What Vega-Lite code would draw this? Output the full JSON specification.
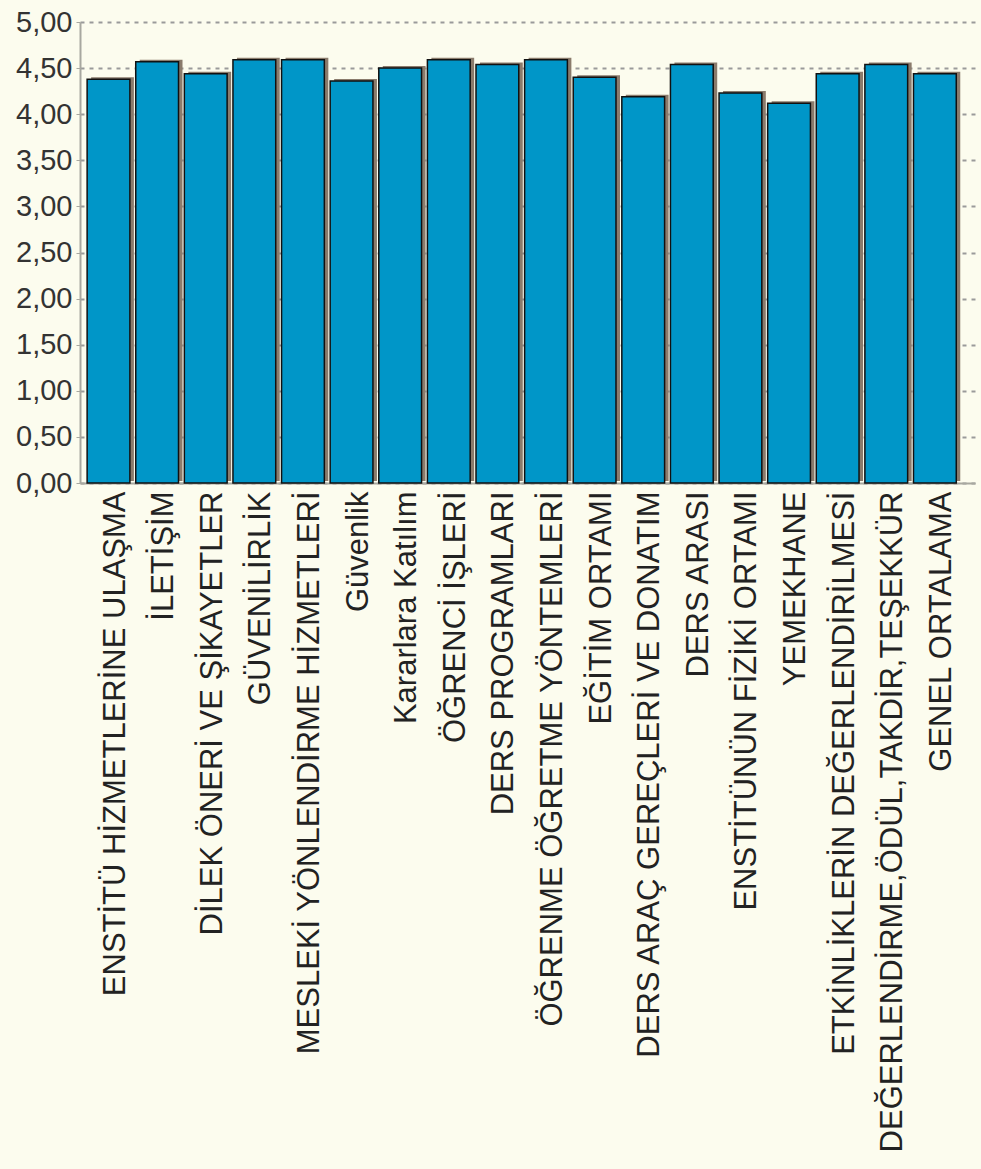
{
  "$schema": "https://vega.github.io/schema/vega-lite/v6.json",
  "width": 895,
  "height": 461,
  "autosize": "none",
  "padding": {"left": 80, "top": 22, "right": 6, "bottom": 686},
  "background": "#FCFCEE",
  "config": {
    "view": {"stroke": null},
    "font": "Liberation Sans"
  },
  "data": {
    "values": [
      {"kategori": "ENSTİTÜ HİZMETLERİNE ULAŞMA", "ortalama": 4.38},
      {"kategori": "İLETİŞİM", "ortalama": 4.57},
      {"kategori": "DİLEK ÖNERİ VE ŞİKAYETLER", "ortalama": 4.44},
      {"kategori": "GÜVENİLİRLİK", "ortalama": 4.59},
      {"kategori": "MESLEKİ YÖNLENDİRME HİZMETLERİ", "ortalama": 4.59},
      {"kategori": "Güvenlik", "ortalama": 4.36},
      {"kategori": "Kararlara Katılım", "ortalama": 4.50},
      {"kategori": "ÖĞRENCİ İŞLERİ", "ortalama": 4.59},
      {"kategori": "DERS PROGRAMLARI", "ortalama": 4.54},
      {"kategori": "ÖĞRENME ÖĞRETME YÖNTEMLERİ", "ortalama": 4.59},
      {"kategori": "EĞİTİM ORTAMI", "ortalama": 4.40},
      {"kategori": "DERS ARAÇ GEREÇLERİ VE DONATIM", "ortalama": 4.19},
      {"kategori": "DERS ARASI", "ortalama": 4.54},
      {"kategori": "ENSTİTÜNÜN FİZİKİ ORTAMI", "ortalama": 4.23},
      {"kategori": "YEMEKHANE", "ortalama": 4.12},
      {"kategori": "ETKİNLİKLERİN DEĞERLENDİRİLMESİ", "ortalama": 4.44},
      {"kategori": "DEĞERLENDİRME,ÖDÜL,TAKDİR,TEŞEKKÜR", "ortalama": 4.54},
      {"kategori": "GENEL ORTALAMA", "ortalama": 4.44}
    ]
  },
  "encoding": {
    "x": {
      "field": "kategori",
      "type": "nominal",
      "sort": null,
      "title": null,
      "scale": {"paddingInner": 0, "paddingOuter": 0.206, "align": 0.21},
      "axis": {
        "labelAngle": -90,
        "labelFontSize": 31,
        "labelColor": "#222222",
        "labelPadding": 8,
        "labelOffset": 7,
        "labelLimit": 700,
        "ticks": false,
        "domainColor": "#a8a8a0",
        "domainWidth": 2
      }
    },
    "y": {
      "field": "ortalama",
      "type": "quantitative",
      "title": null,
      "scale": {"domain": [0, 5], "nice": false},
      "axis": {
        "values": [0, 0.5, 1, 1.5, 2, 2.5, 3, 3.5, 4, 4.5, 5],
        "labelExpr": "replace(format(datum.value, '.2f'), '.', ',')",
        "labelFontSize": 29,
        "labelColor": "#333333",
        "labelPadding": 4,
        "tickSize": 4,
        "tickColor": "#a8a8a0",
        "domainColor": "#a8a8a0",
        "domainWidth": 2,
        "grid": true,
        "gridColor": "#9a9a9a",
        "gridDash": [4, 5],
        "gridWidth": 2
      }
    }
  },
  "layer": [
    {
      "mark": {"type": "bar", "color": "#8a7b6c", "width": {"band": 0.88}, "xOffset": 4, "yOffset": -2}
    },
    {
      "mark": {"type": "bar", "color": "#0096C8", "stroke": "#111111", "strokeWidth": 1.5, "width": {"band": 0.88}}
    }
  ]
}
